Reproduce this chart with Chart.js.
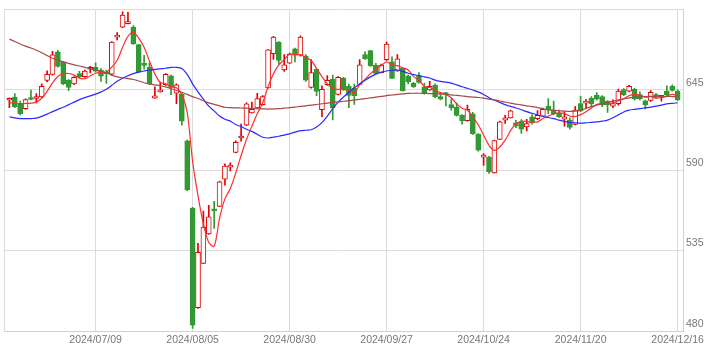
<!DOCTYPE html>
<html><head><meta charset="utf-8">
<script src="https://cdn.jsdelivr.net/npm/chart.js@4.4.1/dist/chart.umd.min.js"></script>
<style>html,body{margin:0;padding:0;background:#fff;}canvas{display:block;}</style>
</head><body>
<canvas id="c" width="727" height="358"></canvas>
<script>
const dates = [
'2024/06/17','2024/06/18','2024/06/19','2024/06/20','2024/06/21','2024/06/24','2024/06/25','2024/06/26','2024/06/27','2024/06/28',
'2024/07/01','2024/07/02','2024/07/03','2024/07/04','2024/07/05','2024/07/08','2024/07/09','2024/07/10','2024/07/11','2024/07/12',
'2024/07/16','2024/07/17','2024/07/18','2024/07/19','2024/07/22','2024/07/23','2024/07/24','2024/07/25','2024/07/26','2024/07/29',
'2024/07/30','2024/07/31','2024/08/01','2024/08/02','2024/08/05','2024/08/06','2024/08/07','2024/08/08','2024/08/09','2024/08/13',
'2024/08/14','2024/08/15','2024/08/16','2024/08/19','2024/08/20','2024/08/21','2024/08/22','2024/08/23','2024/08/26','2024/08/27',
'2024/08/28','2024/08/29','2024/08/30','2024/09/02','2024/09/03','2024/09/04','2024/09/05','2024/09/06','2024/09/09','2024/09/10',
'2024/09/11','2024/09/12','2024/09/13','2024/09/17','2024/09/18','2024/09/19','2024/09/20','2024/09/24','2024/09/25','2024/09/26',
'2024/09/27','2024/09/30','2024/10/01','2024/10/02','2024/10/03','2024/10/04','2024/10/07','2024/10/08','2024/10/09','2024/10/10',
'2024/10/11','2024/10/15','2024/10/16','2024/10/17','2024/10/18','2024/10/21','2024/10/22','2024/10/23','2024/10/24','2024/10/25',
'2024/10/28','2024/10/29','2024/10/30','2024/10/31','2024/11/01','2024/11/05','2024/11/06','2024/11/07','2024/11/08','2024/11/11',
'2024/11/12','2024/11/13','2024/11/14','2024/11/15','2024/11/18','2024/11/19','2024/11/20','2024/11/21','2024/11/22','2024/11/25',
'2024/11/26','2024/11/27','2024/11/28','2024/11/29','2024/12/02','2024/12/03','2024/12/04','2024/12/05','2024/12/06','2024/12/09',
'2024/12/10','2024/12/11','2024/12/12','2024/12/13','2024/12/16'];

const openP = [
637.8,640,635.4,632,639.4,639,640,651.4,655.5,671,
664,651.6,649,656,654,659,660.4,658.4,656.6,655.6,
681,687.7,690.2,687.7,675.8,662.2,660.4,639.3,643.5,648.4,
654.5,642.6,642,610,564,496,526.2,546.4,562.8,565.2,
583.8,592.1,602.2,612,620.8,629.1,632.6,634.7,646.2,669.7,
677.6,658.5,663.2,673,668.6,668,646.6,659,631.4,648.4,
652.2,641.8,653,647.4,646,648.7,669,671.7,661.9,656.7,
665.5,664,657.8,659.6,654.5,649.3,654.5,647,644.8,648.2,
640.3,642.6,634.9,633.2,627.5,623.8,628.5,614.6,598.9,599,
588.1,611.1,624.1,625.7,622.3,623,619.6,626.4,625.2,626.9,
633.9,630.9,629,624.9,624.2,621.3,635.5,635.8,639.2,641.4,
640.3,637,633.7,635.5,645.1,644,645.3,641.7,637.4,637.7,
641.7,639.8,644,647.4,644];

const highP = [
639.4,642.4,637.2,638.8,644.8,642.4,649,658,671.3,672,
664.5,652,654,657.5,658.5,661,663.4,659.5,658.5,678,
684,698.2,698,688.8,676,668.6,663.4,647,650.2,656,
655,649,642.5,610.5,564.5,540,562,566,568.6,582.5,
594.4,595,610,621.5,636,636.6,642.6,641,672.5,681.6,
678,669,670,673.5,681.8,669,665.7,659.5,647.7,654.7,
655,654,653.5,648.8,648.8,665.7,671,672,663,662.5,
677.6,667.5,669,660,655,650,656.7,649.5,650.7,649,
643.3,643,638.8,636,628,634.5,629.5,615,601.3,599.5,
610.5,623.5,627.5,631,624,624.5,624.8,628,630.8,632.5,
639,637.3,631,629.8,625.8,633.4,640.4,638.4,640.3,643,
641,637.5,638.1,645.5,645.8,648,646,643.5,638,644.4,
642.5,641.2,647.7,648.4,645];

const lowP = [
632.7,632.7,627.8,631.5,638,636,639.5,650.3,655,660.5,
648.5,644.4,648.5,653,653.5,656.5,657,650.7,649.3,655,
679,687.5,690,676,657,659,648.5,639,643.3,648,
641.7,635.4,620.8,576,481.8,495.5,526,546,550.2,565,
579.8,589.4,601.8,609.8,620.5,629,632,634.5,646,665.7,
662.3,657.5,663,664,668,650.7,646,641,626.5,648,
624.3,641.5,644.5,632.7,635,648.5,665.8,661,655.8,656.5,
665,652.5,657.5,644,648.9,646.5,649.5,642,644.5,639.5,
638,634,631,627,621.5,623.5,614.5,603,593.2,587.7,
588,610.8,621.9,625.5,619,615.2,616.8,621.5,624.5,626.5,
628.6,628,626,620.1,618,621,630,632.8,633.4,638,
633.4,629.5,632.7,634.5,641,643.5,637.8,638,631.8,637,
639,637.2,641,644,637.5];

const closeP = [
638.2,633.2,628.7,638.3,638.3,639.4,647.4,655.5,668.9,661,
649,646.6,653.4,654,657.8,659.6,657.7,654.3,655.9,677.6,
681.6,696,690.6,676.3,657.1,661.6,648.9,640.8,644.2,655.5,
646.6,648.4,623.5,576.4,484,533.8,551,558,562.2,582,
592.8,592.7,609,612.4,635.4,631.6,639,640.3,672.2,681,
665,662.1,669.3,668.6,681,651.6,656.7,643.8,645.3,651.4,
632.6,653.4,644.8,641.1,641,662.1,666.2,661.2,656.1,661.9,
676.2,652.7,666.2,644.4,650.4,647,650,642.6,647.4,640,
638.5,641.7,632.6,627.5,623.8,631.6,614.8,603.6,599.3,589,
610.3,623,625.7,630.5,620,618,621.9,622.3,627.5,631.6,
631,628.6,626.5,626.5,619.3,631.1,630.5,636.3,635.4,638.5,
634.6,634.6,635.5,644,641.7,647.4,638.8,638.8,634.7,643.3,
640,640.2,641.7,644.5,638.1];

const ma5 = [
636,636,635.5,635.6,635.8,636.5,639.2,643.9,649.7,654,
656,656.1,655,652.9,652.5,654.4,656.3,656.7,656.8,660.5,
665.2,674,681.5,684.2,680.3,674,664.5,655.8,650,649,
647,646.3,641.5,629.5,596,572.6,553.3,540.5,537.9,557,
570.5,577.5,588,600,611,620,628.5,636,647,656,
662,665.5,669.3,669,669,667,665,659.5,654,649,
645.7,645.3,645.2,644.2,643,648.5,652,656,659,661.5,
664,662,661.5,660,658.5,654,651.5,647.3,646.5,644.6,
643,641.7,639.5,635.3,632.4,631,626.5,621,614,607,
603.5,605.8,610.5,617,621.7,623.4,623.2,622.8,623,625.3,
627,628.4,629.2,628.7,627,626.7,628,630,632.5,635,
635.5,635.9,635.8,637.5,638.8,641,641.6,641.3,640,640.3,
639.3,639.6,640.5,641.8,641];

const ma25 = [
626.5,625.8,625.3,625.2,625.3,625.6,626.8,628.3,630,631.6,
633,634.8,636.5,638.2,639.6,640.8,642,643.5,645.3,648,
650.8,652.8,654.6,656,657,657.8,658.5,658.9,659.3,659.7,
660.3,660.3,659.5,655.5,649,643.5,638.5,633.8,630.5,627,
624.8,623.5,621.2,619.8,618,616.5,614.5,612.5,612,612.6,
613.2,614,614.8,616,617,617.3,617.6,619.5,622.5,627,
632,636.5,640,643.3,646.3,648.9,651.5,653.8,655.7,657,
657.8,658.3,658.5,657.5,656.3,655.3,654.6,653.8,653,651.6,
650.7,650.2,649.5,648.3,647,646,644.8,643.5,641.8,639.5,
637.8,636.3,634.8,633.6,632.5,631.3,630,628.9,627.7,626.7,
626,625.2,624.2,623.3,622.6,622.3,622.2,622.4,622.7,623,
623.5,624.2,625.8,627.8,629.8,631,631.6,632.1,632.6,633.1,
633.8,634.5,635.3,635.7,636];

const ma75 = [
679.6,678,676.3,674.8,673.5,672,670.3,668.3,666.5,665.2,
664,663,662,661.2,660.3,659.4,658.5,657.5,656.7,655,
653.8,653.2,652.6,652,651,649.8,648.9,648.3,647.7,647,
645.8,644.5,643.3,641.8,640.3,639,637.5,636,635,634,
633,632.7,632.6,632.5,632.4,632.2,632,631.9,631.8,631.9,
632.1,632.4,632.7,633.1,633.6,634,634.5,634.9,635.4,635.9,
636.3,636.7,637.1,637.5,638,638.4,638.9,639.4,639.9,640.4,
641,641.4,641.8,642.1,642.5,642.6,642.6,642.5,642.4,642.2,
642.1,641.8,641.5,641.1,640.7,640.3,640,639.7,639.2,638.6,
638,637.3,636.6,635.8,635.2,634.6,634,633.4,632.8,632,
631.4,631,630.7,630.4,630.2,630.3,631,632.2,633.4,634.5,
635.5,636.4,637.2,638,638.8,639.4,639.8,640.1,640.3,640.4,
640.4,640.4,640.4,640.3,640.3];

const tickDates = ['2024/07/09','2024/08/05','2024/08/30','2024/09/27','2024/10/24','2024/11/20','2024/12/16'];
const yTicks = [480, 535, 590, 645, 700];

const UP = '#e00000', DOWN = '#339933';
const isUp = i => closeP[i] >= openP[i];
const bodies = dates.map((d, i) => ({x: i, y: [openP[i], closeP[i]]}));
const wicks = dates.map((d, i) => ({x: i, y: [lowP[i], highP[i]]}));
const asLine = arr => arr.map((v, i) => ({x: i, y: v}));
const font = {family: "'Liberation Sans', Arial, sans-serif", size: 10.5};

const lineDs = (arr, color) => ({
  type: 'line', data: asLine(arr), borderColor: color, borderWidth: 1.2,
  pointRadius: 0, tension: 0.3, fill: false, order: 1
});

new Chart(document.getElementById('c'), {
  type: 'bar',
  data: {datasets: [
    lineDs(ma75, '#a84848'),
    lineDs(ma25, '#2a2aff'),
    lineDs(ma5, '#ff2e2e'),
    {data: bodies, barThickness: 5, grouped: false, minBarLength: 2,
     backgroundColor: c => isUp(c.dataIndex) ? '#ffffff' : DOWN,
     borderColor: c => isUp(c.dataIndex) ? UP : DOWN,
     borderWidth: 1, borderSkipped: false, order: 2},
    {data: wicks, barThickness: 1, grouped: false,
     backgroundColor: c => isUp(c.dataIndex) ? UP : DOWN,
     borderWidth: 0, order: 3}
  ]},
  options: {
    responsive: false, animation: false, devicePixelRatio: 1,
    layout: {padding: {left: 4, top: 4, right: 0, bottom: 0}},
    plugins: {legend: {display: false}, tooltip: {enabled: false}},
    scales: {
      x: {
        type: 'linear', min: -1, max: dates.length, offset: false,
        afterBuildTicks: s => {
          s.ticks = [-1, ...tickDates.map(d => dates.indexOf(d)), dates.length].map(v => ({value: v}));
        },
        afterFit: s => { s.height = 27; },
        ticks: {autoSkip: false, maxRotation: 0, minRotation: 0, padding: 3, color: '#777', font: font,
                callback: v => dates[v] || ''},
        grid: {color: '#dcdcdc', drawTicks: false, offset: false},
        border: {color: '#d0d0d0'}
      },
      y: {
        position: 'right', min: 480, max: 700,
        afterBuildTicks: s => { s.ticks = yTicks.map(v => ({value: v})); },
        afterFit: s => { s.width = 44; },
        ticks: {labelOffset: -7, padding: 3, color: '#777', font: font,
                callback: v => (v === 700 ? '' : String(v))},
        grid: {color: '#dcdcdc', drawTicks: false},
        border: {color: '#d0d0d0'}
      }
    }
  }
});
</script>
</body></html>
